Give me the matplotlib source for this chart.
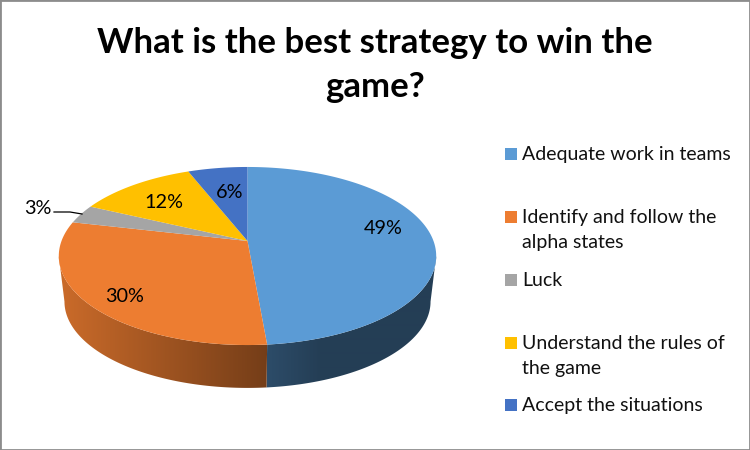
import numpy as np
import matplotlib
matplotlib.use('Agg')
import matplotlib.pyplot as plt
from matplotlib.colors import to_rgb

# --- Data ---
categories = ['Adequate work in teams', 'Identify and follow the\nalpha states', 'Luck',
              'Understand the rules of\nthe game', 'Accept the situations']
shares = [48.6, 30.0, 3.4, 12.0, 6.0]
colors = ['#5B9BD5', '#ED7D31', '#A5A5A5', '#FFC000', '#4472C4']
title = 'What is the best strategy to win the\ngame?'

# --- Layout (pixels of the 750x450 picture) ---
CX, CY, A, B, K = 247.5, 241, 186, 86.5, 0.1685
CY_BOTTOM, SCALE_BOTTOM = 287, 0.97
label_xy = [(383, 229), (125, 297), (38, 208), (164, 202), (230, 192)]
legend_y = [154, 217, 280, 343, 405]


def project(theta, cy=CY, scale=1.0):
    # circle seen in perspective, back of the pie is further away
    u, v = np.sin(theta), np.cos(theta)
    w = 1 + K * v
    return CX + scale * A * u / w, cy - scale * B * v / w


plt.rcParams['font.family'] = ['Lato', 'DejaVu Sans']
fig = plt.figure(figsize=(7.5, 4.5), dpi=100)
ax = fig.add_axes([0, 0, 1, 1])
ax.set_xticks([])
ax.set_yticks([])
for sp in ax.spines.values():
    sp.set_color('#8C8C8C')
    sp.set_linewidth(2)

edges = np.cumsum([0] + shares) / 100 * 2 * np.pi

# side walls first, only the front arc between the two silhouette angles
front_lo = np.arccos(-K)
front_hi = 2 * np.pi - front_lo
grad_x = np.arange(40, 460)
grad = np.interp(grad_x, [63, 268, 320], [0.85, 0.49, 0.40])
for i, col in enumerate(colors):
    t0, t1 = max(edges[i], front_lo), min(edges[i + 1], front_hi)
    if t0 >= t1:
        continue
    th = np.linspace(t0, t1, 200)
    xt, yt = project(th)
    xb, yb = project(th, CY_BOTTOM, SCALE_BOTTOM)
    wall_x = np.r_[xt, xb[::-1]]
    wall_y = np.r_[yt, yb[::-1]]
    img = grad[None, :, None] * np.array(to_rgb(col))[None, None, :]
    poly = ax.fill(wall_x, wall_y, color=col, lw=0, alpha=0, zorder=1)[0]
    im = ax.imshow(img, extent=(40, 460, 450, 0), aspect='auto', zorder=1, interpolation='bilinear')
    im.set_clip_path(poly)

for i, col in enumerate(colors):
    th = np.linspace(edges[i], edges[i + 1], 160)
    x, y = project(th)
    ax.fill(np.r_[CX, x], np.r_[CY, y], color=col, lw=0, zorder=2)

ax.set_xlim(0, 750)
ax.set_ylim(450, 0)

# data labels
for share, (lx, ly) in zip(shares, label_xy):
    ax.text(lx, ly, f'{share:.0f}%', ha='center', va='center', fontsize=14.3, color='black', zorder=3)
ax.plot([54, 70, 82], [212, 212, 214], color='black', lw=0.9, zorder=3)

# legend
ax.scatter([511] * len(colors), legend_y, marker='s', s=70, c=colors, linewidths=0, zorder=3)
for name, ly in zip(categories, legend_y):
    ax.text(522, ly - 8, name, ha='left', va='top', fontsize=14, color='#111111', linespacing=1.55)

ax.text(375, 65, title, ha='center', va='center', fontsize=25, fontweight='bold', color='black', linespacing=1.47)

fig.savefig('out.png', dpi=100)
